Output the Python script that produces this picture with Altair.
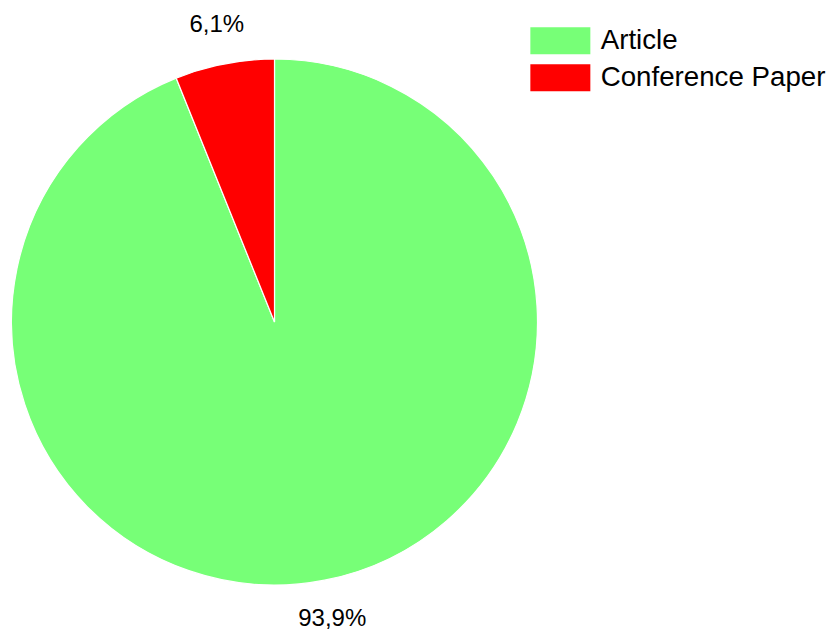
import altair as alt
import pandas as pd

categories = ["Article", "Conference Paper"]
shares = [93.9, 6.1]
labels = ["93,9%", "6,1%"]
colors = ["#77FF77", "#FF0000"]

df = pd.DataFrame({"type": categories, "share": shares, "label": labels})

CX, CY, R = 274.5, 322, 263

base = alt.Chart(df).encode(
    theta=alt.Theta("share:Q", stack=True),
    order=alt.Order("type:N"),
)

pie = base.mark_arc(outerRadius=R, stroke="white", strokeWidth=1.2).encode(
    x=alt.value(CX),
    y=alt.value(CY),
    color=alt.Color(
        "type:N",
        scale=alt.Scale(domain=categories, range=colors),
        legend=alt.Legend(
            title=None,
            orient="none",
            legendX=546.5,
            legendY=27,
            symbolType="M-2.222,-1L2.222,-1L2.222,1L-2.222,1Z",
            symbolSize=729,
            symbolStrokeWidth=0,
            symbolOpacity=1,
            labelFont="Liberation Sans",
            labelFontSize=27.7,
            labelColor="black",
            labelOffset=26.5,
            rowPadding=8,
            padding=0,
            labelLimit=400,
        ),
    ),
)

text = base.mark_text(
    font="Liberation Sans", fontSize=24, color="black", baseline="middle", align="center"
).encode(
    x=alt.value(CX),
    y=alt.value(CY),
    radius=alt.value(303),
    text="label:N",
)

chart = (
    alt.layer(pie, text)
    .properties(width=829, height=633, autosize=alt.AutoSizeParams(type="none"),
                padding=0, background="white")
    .configure_view(stroke=None, strokeWidth=0)
)

chart.save("out.html", embed_options={"renderer": "svg", "actions": False})
